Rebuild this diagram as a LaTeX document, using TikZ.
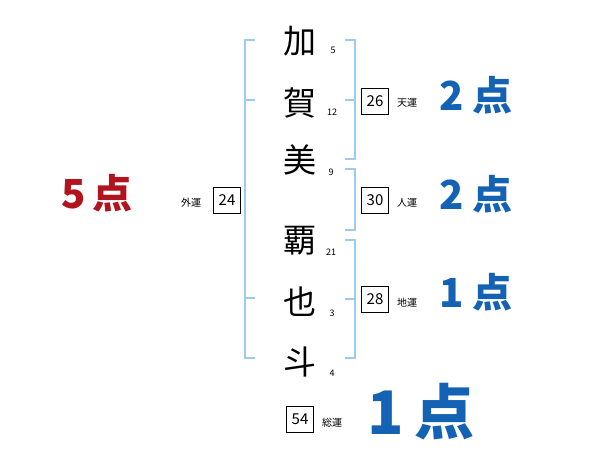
\documentclass[tikz,border=0pt]{standalone}
\usepackage{fontspec}
\newfontfamily\jp{Noto Sans CJK JP}
\definecolor{brk}{HTML}{9DCBEA}
\definecolor{ptblue}{HTML}{1462B4}
\definecolor{ptred}{HTML}{B0141E}
\begin{document}
\begin{tikzpicture}[x=1pt,y=-1pt,
  kanji/.style={inner sep=0pt,font=\jp\fontsize{33}{33}\selectfont},
  strokes/.style={inner sep=0pt,font=\jp\fontsize{9}{9}\selectfont},
  numbox/.style={draw,line width=0.8pt,minimum width=27pt,minimum height=26pt,inner sep=0pt,font=\jp\fontsize{15}{15}\selectfont},
  unlabel/.style={inner sep=0pt,font=\jp\fontsize{10}{10}\selectfont},
  bigpt/.style={inner sep=0pt,text=ptblue,font=\jp\bfseries\fontsize{40}{40}\selectfont},
  bracket/.style={draw=brk,line width=1.8pt}]
\useasboundingbox (0,0) rectangle (600,470);
% characters
\node[kanji] (c1) at (300,41) {加};
\node[kanji] (c2) at (300,103) {賀};
\node[kanji] (c3) at (300,160) {美};
\node[kanji] (c4) at (300,241) {覇};
\node[kanji] (c5) at (300,302) {也};
\node[kanji] (c6) at (300,362) {斗};
\node[strokes] (s1) at (333,50) {5};
\node[strokes] (s2) at (332,112) {12};
\node[strokes] (s3) at (331,172) {9};
\node[strokes] (s4) at (331,252) {21};
\node[strokes] (s5) at (332,313) {3};
\node[strokes] (s6) at (332,373) {4};
% brackets
\coordinate (l0) at (255,40);
\coordinate (l1) at (245,40);
\coordinate (l2) at (245,358);
\coordinate (l3) at (255,358);
\draw[bracket] (l0) -- (l1) -- (l2) -- (l3);
\draw[bracket] (245,100) -- (255,100);
\draw[bracket] (245,298) -- (255,298);
\draw[bracket] (345,40) -- (355,40) -- (355,159) -- (345,159);
\draw[bracket] (355,100) -- (345,100);
\draw[bracket] (345,169) -- (355,169) -- (355,230) -- (345,230);
\draw[bracket] (345,240) -- (355,240) -- (355,358) -- (345,358);
\draw[bracket] (355,299) -- (345,299);
% boxes
\node[numbox] (b24) at (227,200) {24};
\node[unlabel] (u24) at (191,203) {外運};
\node[numbox] (b26) at (375,101) {26};
\node[unlabel] (u26) at (407,103) {天運};
\node[numbox] (b30) at (375,200) {30};
\node[unlabel] (u30) at (407,203) {人運};
\node[numbox] (b28) at (375,299) {28};
\node[unlabel] (u28) at (407,303) {地運};
\node[numbox] (b54) at (300,419) {54};
\node[unlabel] (u54) at (332,423) {総運};
% points
\node[bigpt] (p1) at (476,95) {2\hspace{8pt}点};
\node[bigpt] (p2) at (476,194) {2\hspace{8pt}点};
\node[bigpt] (p3) at (476,292) {1\hspace{8pt}点};
\node[bigpt,font=\jp\bfseries\fontsize{60}{60}\selectfont] (p4) at (421,412) {1\hspace{10pt}点};
\node[bigpt,text=ptred] (p5) at (97,193) {5\hspace{6pt}点};
\end{tikzpicture}
\end{document}
